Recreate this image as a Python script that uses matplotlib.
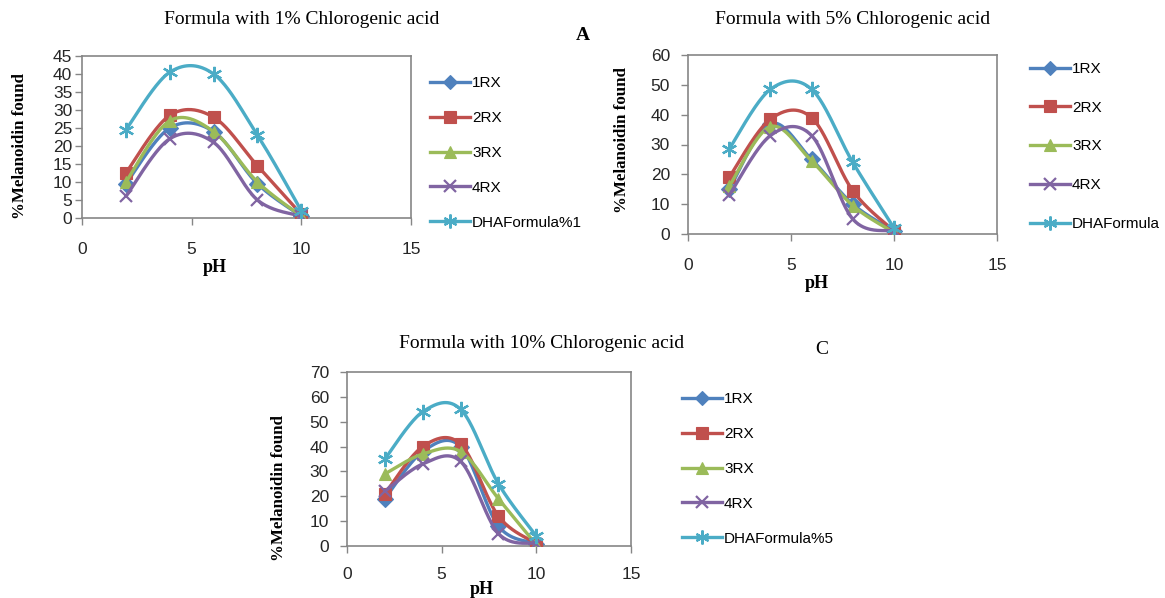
import numpy as np
import matplotlib
matplotlib.use("Agg")
import matplotlib.pyplot as plt
from matplotlib.lines import Line2D

W, H = 1165, 598

ph = [2, 4, 6, 8, 10]
series_names = ["1RX", "2RX", "3RX", "4RX"]

# Panel A: 1% chlorogenic acid
a_1rx = [9.5, 25, 24, 9.5, 0.5]
a_2rx = [12.5, 28.5, 28, 14.5, 1]
a_3rx = [10, 27, 24, 10, 0.5]
a_4rx = [6, 22, 21, 5, 0.5]
a_dha = [24.5, 40.5, 40, 23, 2]

# Panel B: 5% chlorogenic acid
b_1rx = [15, 37, 25, 10, 1]
b_2rx = [19, 38.5, 39, 14.5, 1]
b_3rx = [16, 36, 24.5, 9.5, 0.5]
b_4rx = [13, 33, 33, 5, 1]
b_dha = [28.5, 48.5, 48.5, 24, 2]

# Panel C: 10% chlorogenic acid
c_1rx = [19, 38, 40, 8, 1]
c_2rx = [21, 40, 41, 12, 1]
c_3rx = [29, 37, 38, 19, 0.5]
c_4rx = [22, 33, 34, 5, 1]
c_dha = [35, 54, 55, 25, 4]

colors = ["#4F81BD", "#C0504D", "#9BBB59", "#8064A2", "#4BACC6"]
markers = ["D", "s", "^", "x", (6, 2, 0)]
msizes = [8, 9, 9, 9, 11]
leg_msizes = [7, 8, 8, 8, 10]

AX = "#868686"


def smooth(x, y, n=40):
    pts = np.column_stack([x, y]).astype(float)
    out = []
    m = len(pts)
    for i in range(m - 1):
        p0 = pts[i - 1] if i > 0 else pts[i]
        p1 = pts[i]
        p2 = pts[i + 1]
        p3 = pts[i + 2] if i + 2 < m else pts[i + 1]
        c1 = p1 + (p2 - p0) / 6.0
        c2 = p2 - (p3 - p1) / 6.0
        t = np.linspace(0, 1, n)[:, None]
        seg = ((1 - t) ** 3) * p1 + 3 * ((1 - t) ** 2) * t * c1 + 3 * (1 - t) * t ** 2 * c2 + t ** 3 * p2
        out.append(seg if i == 0 else seg[1:])
    s = np.vstack(out)
    return s[:, 0], s[:, 1]


def px(l, t, r, b):
    return [l / W, 1 - b / H, (r - l) / W, (b - t) / H]


fig = plt.figure(figsize=(W / 100, H / 100), dpi=100)

panels = [
    dict(rect=px(82, 56, 411, 218), data=[a_1rx, a_2rx, a_3rx, a_4rx, a_dha],
         dha="DHAFormula%1", ymax=45, ystep=5,
         title="Formula with 1% Chlorogenic acid", title_xy=(302, 20),
         ylab_xy=(20, 146), xlab_xy=(215, 268), xpad=12, ypad=2,
         leg_xy=(430, 76), leg_space=1.37),
    dict(rect=px(688, 55, 997, 234), data=[b_1rx, b_2rx, b_3rx, b_4rx, b_dha],
         dha="DHAFormula", ymax=60, ystep=10,
         title="Formula with 5% Chlorogenic acid", title_xy=(853, 20),
         ylab_xy=(622, 140), xlab_xy=(817, 283), xpad=12, ypad=8,
         leg_xy=(1030, 62), leg_space=1.62),
    dict(rect=px(347, 372, 631, 546), data=[c_1rx, c_2rx, c_3rx, c_4rx, c_dha],
         dha="DHAFormula%5", ymax=70, ystep=10,
         title="Formula with 10% Chlorogenic acid", title_xy=(542, 343),
         ylab_xy=(279, 488), xlab_xy=(482, 590), xpad=10, ypad=8,
         leg_xy=(682, 392), leg_space=1.37),
]

for p in panels:
    ax = fig.add_axes(p["rect"])
    for k, vals in enumerate(p["data"]):
        sx, sy = smooth(ph, vals)
        ax.plot(sx, sy, color=colors[k], lw=2.4, solid_capstyle="round", zorder=2 + k)
        mk = markers[k]
        filled = mk in ("D", "s", "^")
        ax.plot(ph, vals, ls="none", marker=mk, ms=msizes[k], color=colors[k],
                mec=colors[k], mew=1.6 if not filled else 0.8, zorder=2 + k)
    ax.set_xlim(0, 15)
    ax.set_ylim(0, p["ymax"])
    ax.set_xticks([0, 5, 10, 15])
    ax.set_yticks(np.arange(0, p["ymax"] + 0.1, p["ystep"]))
    for s in ax.spines.values():
        s.set_color(AX)
        s.set_linewidth(1.2)
    ax.tick_params(axis="both", colors=AX, labelcolor="#262626", labelsize=12.5,
                   direction="out", length=5, width=1)
    ax.tick_params(axis="x", pad=p["xpad"])
    ax.tick_params(axis="y", pad=p["ypad"])
    for lab in ax.get_xticklabels() + ax.get_yticklabels():
        lab.set_fontfamily("Liberation Sans")

    fig.text(p["title_xy"][0] / W, 1 - p["title_xy"][1] / H, p["title"],
             ha="center", va="center", fontsize=14, family="Liberation Serif")
    fig.text(p["ylab_xy"][0] / W, 1 - p["ylab_xy"][1] / H, "%Melanoidin found",
             rotation=90, ha="center", va="center", fontsize=12.2,
             family="Liberation Serif", weight="bold")
    fig.text(p["xlab_xy"][0] / W, 1 - p["xlab_xy"][1] / H, "pH",
             ha="center", va="center", fontsize=13,
             family="Liberation Serif", weight="bold")

    handles = []
    labels = series_names + [p["dha"]]
    for k in range(5):
        mk = markers[k]
        filled = mk in ("D", "s", "^")
        handles.append(Line2D([], [], color=colors[k], lw=2.4, marker=mk,
                              ms=leg_msizes[k], mec=colors[k],
                              mew=1.6 if not filled else 0.8))
    fig.legend(handles, labels, loc="upper left",
               bbox_to_anchor=(p["leg_xy"][0] / W, 1 - p["leg_xy"][1] / H),
               frameon=False, labelspacing=p["leg_space"],
               handlelength=2.6, handletextpad=0.15, borderpad=0, borderaxespad=0,
               prop={"family": "Liberation Sans", "size": 11})

fig.text(583 / W, 1 - 35 / H, "A", ha="center", va="center", fontsize=14,
         family="Liberation Serif", weight="bold")
fig.text(822 / W, 1 - 349 / H, "C", ha="center", va="center", fontsize=14,
         family="Liberation Serif")

fig.savefig("out.png", dpi=100)
